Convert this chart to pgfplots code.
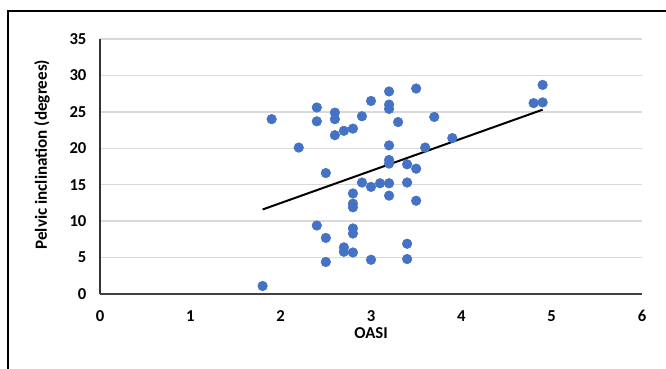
\documentclass[border=0pt]{standalone}
\usepackage{pgfplots}
\pgfplotsset{compat=1.18}
\usepackage{fontspec}
\setmainfont{Carlito}
\definecolor{dotblue}{HTML}{4472C4}
\definecolor{gridgray}{HTML}{D9D9D9}
\begin{document}
\begin{tikzpicture}
\useasboundingbox (0,0) rectangle (499.5pt,276pt);
\fill[white] (0,0) rectangle (499.5pt,276pt);
\draw[black, line width=1.6pt] (6pt,-2pt) -- (6pt,267.75pt) -- (502pt,267.75pt);
\begin{axis}[
  at={(75pt,55.5pt)}, anchor=south west,
  scale only axis, width=406.5pt, height=191.25pt,
  xmin=0, xmax=6, ymin=0, ymax=35,
  xtick={0,1,...,6}, ytick={0,5,...,35},
  axis x line*=bottom, axis y line*=left,
  x axis line style={draw=black!75, line width=1.2pt, -},
  y axis line style={draw=black!80, line width=1.2pt, -},
  major tick length=0pt,
  ymajorgrids, grid style={gridgray, line width=1pt},
  font=\fontsize{12.5}{14}\selectfont\bfseries,
  /pgf/number format/assume math mode=true,
  xticklabel style={anchor=center, yshift=-16.5pt},
  yticklabel style={anchor=east, inner sep=0pt, xshift=-10pt},
  clip=false,
]
\addplot[only marks, mark=*, mark size=3.6pt, mark options={draw=dotblue, fill=dotblue}] coordinates {
(1.8,1.1) (1.9,24.0) (2.2,20.1) (2.4,25.6) (2.4,23.7) (2.4,9.4)
(2.5,16.6) (2.5,7.7) (2.5,4.4) (2.6,24.9) (2.6,24.0) (2.6,21.8)
(2.7,22.4) (2.7,6.4) (2.7,5.8) (2.8,22.7) (2.8,13.8) (2.8,12.4)
(2.8,11.9) (2.8,9.0) (2.8,8.3) (2.8,5.7) (2.9,24.4) (2.9,15.3)
(3.0,26.5) (3.0,14.7) (3.0,4.7) (3.1,15.2) (3.2,27.8) (3.2,26.0)
(3.2,25.4) (3.2,20.4) (3.2,18.4) (3.2,17.9) (3.2,15.2) (3.2,13.5)
(3.3,23.6) (3.4,17.8) (3.4,15.3) (3.4,6.9) (3.4,4.8) (3.5,28.2)
(3.5,17.2) (3.5,12.8) (3.6,20.1) (3.7,24.3) (3.9,21.4) (4.8,26.2)
(4.9,28.7) (4.9,26.3)
};
\addplot[black, line width=1.5pt] coordinates {(1.8,11.6) (4.9,25.3)};
\node[font=\fontsize{12.5}{14}\selectfont\bfseries] at ([yshift=-29pt]rel axis cs:0.5,0) {OASI};
\end{axis}
\node[rotate=90, font=\fontsize{12.8}{14}\selectfont\bfseries] at (31.5pt,160pt) {Pelvic inclination (degrees)};
\end{tikzpicture}
\end{document}
